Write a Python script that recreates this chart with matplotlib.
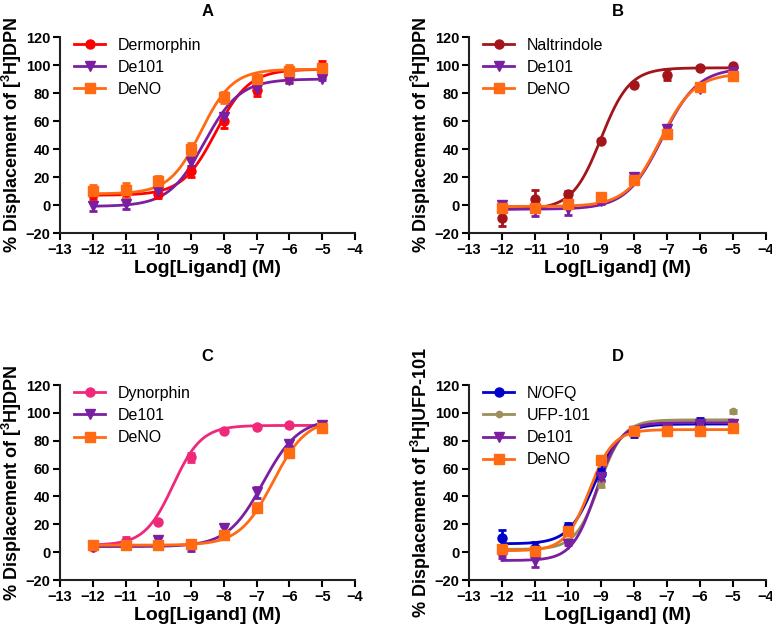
import numpy as np
import matplotlib
matplotlib.use("Agg")
import matplotlib.pyplot as plt

plt.rcParams['font.family'] = ['Liberation Sans', 'DejaVu Sans']
plt.rcParams['mathtext.fontset'] = 'custom'
plt.rcParams['mathtext.rm'] = 'Liberation Sans:bold'
plt.rcParams['mathtext.bf'] = 'Liberation Sans:bold'

# Dosis (log M)
log_dose = np.array([-12, -11, -10, -9, -8, -7, -6, -5])

# Panel A
a_names = ["Dermorphin", "De101", "DeNO"]
a_y = [[8, 9, 8, 24, 60, 82, 92, 99],
       [-1, 1, 10, 31, 63, 83, 89, 90],
       [10, 11, 17, 40, 77, 90, 96, 98]]
a_err = [[4, 4, 3, 4, 5, 4, 4, 4],
         [3, 4, 3, 3, 3, 3, 2, 1],
         [4, 5, 4, 4, 4, 3, 4, 3]]
# bottom, top, logEC50, hill
a_fit = [[7, 97, -8.25, 0.85],
         [-1, 90, -8.6, 0.8],
         [8, 97, -8.7, 0.9]]

# Panel B
b_names = ["Naltrindole", "De101", "DeNO"]
b_y = [[-9, 4, 8, 46, 86, 93, 98, 99],
       [0, -3, -3, 3, 20, 54, 83, 95],
       [-2, -2, 1, 6, 18, 51, 84, 92]]
b_err = [[6, 7, 2, 1, 1, 4, 1, 1],
         [2, 5, 4, 2, 2, 2, 1, 1],
         [2, 2, 3, 2, 2, 3, 1, 1]]
b_fit = [[-3, 98, -9.0, 1.0],
         [-3, 98, -7.15, 0.8],
         [-1, 94, -7.2, 0.85]]

# Panel C
c_names = ["Dynorphin", "De101", "DeNO"]
c_y = [[4, 8, 22, 68, 87, 90, 91, 91],
       [4, 5, 9, 4, 17, 43, 78, 91],
       [5, 5, 5, 6, 12, 32, 71, 89]]
c_err = [[1, 3, 1, 3, 1, 1, 1, 1],
         [1, 2, 2, 3, 2, 4, 2, 1],
         [1, 1, 1, 2, 1, 3, 2, 1]]
c_fit = [[5, 91, -9.55, 1.0],
         [4, 96, -6.8, 0.8],
         [5, 96, -6.5, 0.85]]

# Panel D
d_names = ["N/OFQ", "UFP-101", "De101", "DeNO"]
d_y = [[10, 3, 18, 56, 86, 89, 93, 91],
       [1, 2, 8, 49, 87, 89, 93, 101],
       [-3, -6, 6, 54, 87, 89, 92, 92],
       [2, 1, 15, 66, 87, 87, 87, 89]]
d_err = [[6, 4, 3, 4, 3, 1, 3, 4],
         [1, 1, 1, 2, 1, 1, 1, 1],
         [1, 5, 1, 3, 1, 1, 1, 1],
         [1, 1, 1, 3, 1, 1, 1, 1]]
d_fit = [[6, 92, -9.2, 1.1],
         [2, 95, -9.05, 1.2],
         [-6, 93, -9.15, 1.2],
         [1, 88, -9.35, 1.2]]

rojo = "#ff0000"
morado = "#7b1fa2"
naranja = "#ff6a13"
vino = "#a3151b"
rosa = "#f0287a"
azul = "#0000cc"
oliva = "#9c8f5a"

paneles = [
    ("A", a_names, a_y, a_err, a_fit, [rojo, morado, naranja], ["o", "v", "s"],
     r"% Displacement of [$^{\mathbf{3}}$H]DPN", [0.0777, 0.6307, 0.3821, 0.3106], 15),
    ("B", b_names, b_y, b_err, b_fit, [vino, morado, naranja], ["o", "v", "s"],
     r"% Displacement of [$^{\mathbf{3}}$H]DPN", [0.6075, 0.6307, 0.3847, 0.3106], 15),
    ("C", c_names, c_y, c_err, c_fit, [rosa, morado, naranja], ["o", "v", "s"],
     r"% Displacement of [$^{\mathbf{3}}$H]DPN", [0.0777, 0.0808, 0.3821, 0.309], 17),
    ("D", d_names, d_y, d_err, d_fit, [azul, oliva, morado, naranja], ["o", "o", "v", "s"],
     r"% Displacement of [$^{\mathbf{3}}$H]UFP-101", [0.6075, 0.0808, 0.3847, 0.309], 17),
]

def logistica(x, abajo, arriba, ec50, hill):
    return abajo + (arriba - abajo) / (1 + 10 ** ((ec50 - x) * hill))

fig = plt.figure(figsize=(7.72, 6.31), dpi=100)
xs = np.linspace(-12, -5, 300)

for letra, nombres, ys, errs, fits, colores, marcadores, ylab, pos, pad in paneles:
    ax = fig.add_axes(pos)
    for nombre, y, e, f, col, m in zip(nombres, ys, errs, fits, colores, marcadores):
        ms = 4.5 if (m == "o" and col == oliva) else 6.5
        ax.errorbar(log_dose, y, yerr=e, fmt=m, color=col, ms=ms, capsize=3,
                    elinewidth=2, capthick=2, zorder=3)
        ax.plot(xs, logistica(xs, *f), color=col, lw=2, zorder=2)
        # entrada de leyenda
        ax.plot([], [], color=col, marker=m, ms=ms, lw=2, label=nombre)
    ax.set_xlim(-13, -4)
    ax.set_ylim(-20, 120)
    ax.set_xticks(np.arange(-13, -3, 1))
    ax.set_yticks(np.arange(-20, 121, 20))
    for s in ["top", "right"]:
        ax.spines[s].set_visible(False)
    for s in ["left", "bottom"]:
        ax.spines[s].set_linewidth(1.5)
        ax.spines[s].set_color("#222222")
    ax.tick_params(direction="out", length=5, width=1.5, labelsize=10.5, pad=2)
    for t in ax.get_xticklabels() + ax.get_yticklabels():
        t.set_fontweight("bold")
    ax.set_xlabel("Log[Ligand] (M)", fontsize=14, fontweight="bold", labelpad=2)
    ax.set_ylabel(ylab, fontsize=13, fontweight="bold", labelpad=1)
    ax.set_title(letra, fontsize=12, fontweight="bold", pad=pad)
    ax.legend(loc="upper left", bbox_to_anchor=(0.0, 1.07), frameon=False,
              fontsize=11.5, handlelength=1.9, labelspacing=0.45, handletextpad=0.8)

fig.savefig("out.png", dpi=100)
